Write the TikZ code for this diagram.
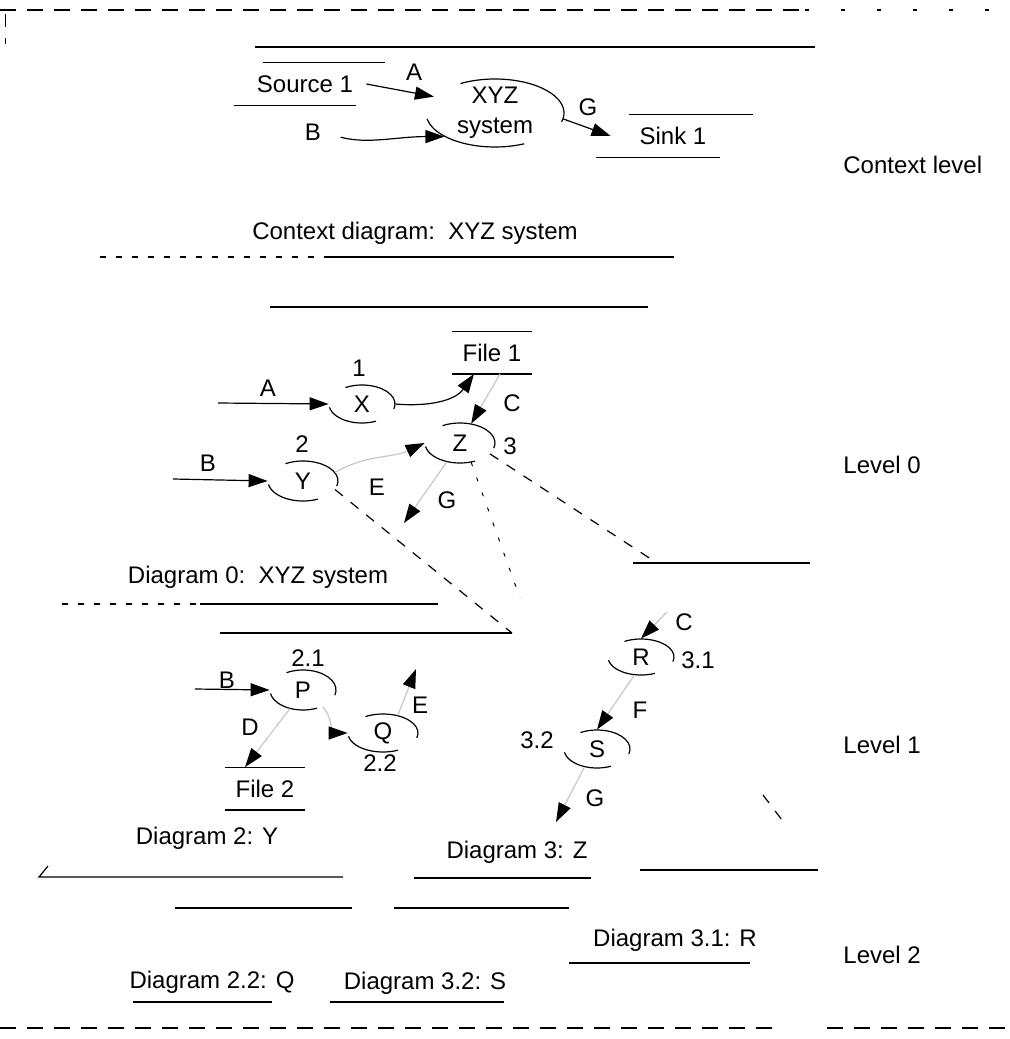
\documentclass[tikz,border=0pt]{standalone}
\usepackage{fontspec}
\setmainfont{Liberation Sans}
\usetikzlibrary{shapes.geometric,arrows.meta}
\tikzset{
  lbl/.style={inner sep=0pt},
  bub/.style 2 args={ellipse,inner sep=0pt,minimum width=#1,minimum height=#2},
  storebox/.style={rectangle,inner sep=0pt,minimum width=#1,minimum height=21pt},
  flow/.style={-{Triangle[length=9.5pt,width=6.5pt,color=black]},line width=0.6pt},
  faintflow/.style={flow,draw=black!22},
  plane/.style={line width=0.6pt},
  proj/.style={line width=0.6pt,dash pattern=on 5pt off 5pt},
  faintproj/.style={line width=0.5pt,dash pattern=on 2pt off 6pt},
  border/.style={line width=0.8pt,dash pattern=on 8pt off 5.5pt},
  bubline/.style={line width=0.6pt},
}
\newcommand{\bubarcs}[3]{%
  \draw[bubline] ([shift={(120:#2 and #3)}]#1.center) arc[start angle=120,end angle=-15,x radius=#2,y radius=#3];
  \draw[bubline] ([shift={(190:#2 and #3)}]#1.center) arc[start angle=190,end angle=295,x radius=#2,y radius=#3];}

\begin{document}
\begin{tikzpicture}[x=0.5pt,y=-0.5pt,font=\fontsize{12}{15}\selectfont]
  \useasboundingbox (0,0) rectangle (1009,1039);
  % frame
  \draw[border] (0,10) -- (805,10);
  \draw[line width=0.8pt,dash pattern=on 2pt off 16pt] (805,10) -- (1009,10);
  \draw[line width=0.5pt] (5,14) -- (5,27) (5,38) -- (5,44);
  \draw[border] (0,1028) -- (776,1028);
  \draw[border] (827,1028) -- (1009,1028);

  % context level
  \draw[plane] (255,47) -- (815,47);
  \node[storebox=61pt] (src1) at (305,84) {Source 1};
  \draw[plane] ([xshift=9.5pt]src1.north west) -- ([xshift=9.5pt]src1.north east);
  \draw[plane] ([xshift=-5pt]src1.south west) -- ([xshift=-5pt]src1.south east);
  \node[lbl] (srcB) at (313,132) {B};
  \node[bub={69pt}{34pt}] (xyz) at (495,113) {};
  \node[lbl,align=center] (xyzt) at (xyz) {XYZ\\system};
  \bubarcs{xyz}{34.5pt}{17pt}
  \node[storebox=62pt] (sink1) at (673,136) {Sink 1};
  \draw[plane] ([xshift=9pt]sink1.north west) -- ([xshift=9pt]sink1.north east);
  \draw[plane] ([xshift=-7.5pt]sink1.south west) -- ([xshift=-7.5pt]sink1.south east);
  \draw[flow] (src1.east) -- (xyz.165);
  \draw[flow,shorten <=10pt] (srcB.east) to[out=-15,in=180] (xyz.205);
  \draw[flow] (xyz.-5) -- (sink1.west);
  \node[lbl] (ctxA) at (414,72) {A};
  \node[lbl] (ctxG) at (588,107) {G};
  \node[lbl,anchor=west] (lev0c) at (843,165) {Context level};
  \node[lbl] (ctxcap) at (415,233) {Context diagram:\ \ XYZ system};
  \draw[plane,dash pattern=on 3pt off 5pt] (100,257) -- (330,257);
  \draw[plane] (330,257) -- (674,257);

  % level 0
  \draw[plane] (270,307) -- (648,307);
  \node[storebox=40pt] (file1) at (492,352.5) {File 1};
  \draw[plane] (file1.north west) -- (file1.north east);
  \draw[plane] (file1.south west) -- (file1.south east);
  \node[bub={33pt}{19pt}] (X) at (362,404) {X};
  \node[bub={35pt}{20pt}] (Y) at (303,481) {Y};
  \node[bub={35pt}{20pt}] (Z) at (460,443) {Z};
  \bubarcs{X}{16.5pt}{9.5pt}
  \bubarcs{Y}{17.5pt}{10pt}
  \bubarcs{Z}{17.5pt}{10pt}
  \node[lbl] (n1) at (359,368) {1};
  \node[lbl] (n2) at (302,444) {2};
  \node[lbl] (n3) at (510,446) {3};
  \coordinate (a0) at (218,403);
  \coordinate (b0) at (173,479);
  \coordinate (g0) at (404,523);
  \draw[flow] (a0) -- (X.west);
  \draw[flow] (b0) -- (Y.west);
  \draw[flow] (X.east) to[out=-5,in=235] ([xshift=-9pt]file1.south);
  \draw[faintflow] ([xshift=4pt]file1.south) -- (Z.60);
  \draw[faintflow] (Y.15) to[out=30,in=205] (Z.west);
  \draw[faintflow] (Z.235) -- (g0);
  \node[lbl] (l0A) at (268,388) {A};
  \node[lbl] (l0B) at (208,463) {B};
  \node[lbl] (l0C) at (512,403) {C};
  \node[lbl] (l0E) at (377,487) {E};
  \node[lbl] (l0G) at (447,500) {G};
  \node[lbl,anchor=west] (lev0) at (843,465) {Level 0};
  \node[lbl] (cap0) at (258,577) {Diagram 0:\ \ XYZ system};
  \draw[plane,dash pattern=on 3pt off 5pt] (62,604) -- (200,604);
  \draw[plane] (200,604) -- (438,604);

  % projections
  \coordinate (p2a) at (220,633);
  \coordinate (p2b) at (512,633);
  \coordinate (p3a) at (633,563);
  \coordinate (p3t) at (657,563);
  \coordinate (p3b) at (810,563);
  \coordinate (p3c) at (520,598);
  \draw[proj] (Y.-15) -- (p2b);
  \draw[proj] (Z.-20) -- (p3t);
  \draw[faintproj] (Z.-60) -- (p3c);
  \draw[proj] (763,795) -- (782,820);

  % level 1
  \draw[plane] (p2a) -- (p2b);
  \draw[plane] (p3a) -- (p3b);
  \node[bub={33pt}{20pt}] (P) at (303,690) {P};
  \node[bub={35pt}{19pt}] (Q) at (383,733) {Q};
  \node[bub={33pt}{18pt}] (R) at (641,657) {R};
  \node[bub={33pt}{19pt}] (S) at (597,749) {S};
  \bubarcs{P}{16.5pt}{10pt}
  \bubarcs{Q}{17.5pt}{9.5pt}
  \bubarcs{R}{16.5pt}{9pt}
  \bubarcs{S}{16.5pt}{9.5pt}
  \node[storebox=40pt] (file2) at (265,788.5) {File 2};
  \draw[plane] (file2.north west) -- (file2.north east);
  \draw[plane] (file2.south west) -- (file2.south east);
  \node[lbl] (n21) at (308,658) {2.1};
  \node[lbl] (n22) at (380,763) {2.2};
  \node[lbl] (n31) at (698,660) {3.1};
  \node[lbl] (n32) at (537,740) {3.2};
  \coordinate (b1) at (195,689);
  \coordinate (e1) at (416,669);
  \coordinate (c1) at (667,612);
  \coordinate (g1) at (556,822);
  \draw[flow] (b1) -- (P.west);
  \draw[faintflow] (P.235) -- ([xshift=-10pt]file2.north);
  \draw[faintflow] (P.-40) to[out=-50,in=180] (Q.west);
  \draw[faintflow] (Q.50) -- (e1);
  \draw[faintflow] (c1) -- (R.north);
  \draw[faintflow] (R.250) -- (S.north);
  \draw[faintflow] (S.235) -- (g1);
  \node[lbl] (l1B) at (227,680) {B};
  \node[lbl] (l1D) at (250,727) {D};
  \node[lbl] (l1E) at (420,705) {E};
  \node[lbl] (l1C) at (684,622) {C};
  \node[lbl] (l1F) at (640,710) {F};
  \node[lbl] (l1G) at (595,798) {G};
  \node[lbl,anchor=west] (lev1) at (843,745) {Level 1};
  \node[lbl] (cap2) at (207,838) {Diagram 2: Y};
  \node[lbl] (cap3) at (517,852) {Diagram 3: Z};
  \draw[plane] (48,866) -- (39,877) -- (343,877);
  \draw[plane] (414,878) -- (591,878);
  \draw[plane] (640,870) -- (818,870);

  % level 2
  \draw[plane] (175,908) -- (352,908);
  \draw[plane] (394,908) -- (569,908);
  \node[lbl] (cap31) at (675,940) {Diagram 3.1: R};
  \draw[plane] (569,963) -- (750,963);
  \node[lbl,anchor=west] (lev2) at (843,955) {Level 2};
  \node[lbl] (cap22) at (212,982) {Diagram 2.2: Q};
  \node[lbl] (cap32) at (425,983) {Diagram 3.2: S};
  \draw[plane] (133,1002) -- (272,1002);
  \draw[plane] (330,1002) -- (504,1002);
\end{tikzpicture}
\end{document}
